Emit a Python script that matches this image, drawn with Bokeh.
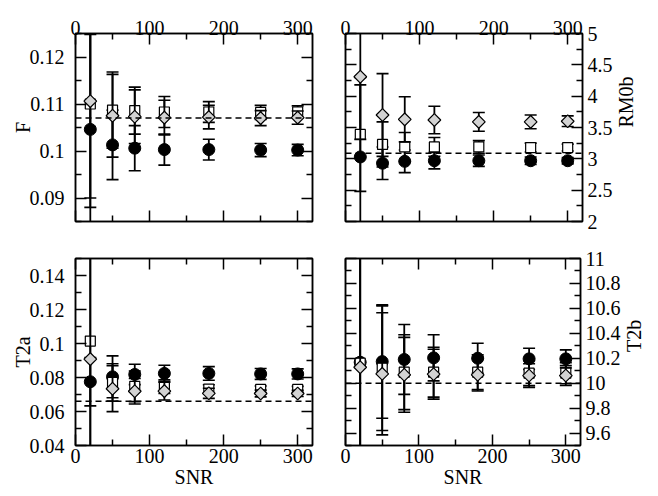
import math
from bokeh.plotting import figure
from bokeh.models import LinearAxis, FixedTicker, CustomJSTickFormatter, Span, Range1d
from bokeh.layouts import column, row
from bokeh.embed import file_html
from bokeh.resources import INLINE

# ---------------- data ----------------
snr = [20, 50, 80, 120, 180, 250, 300]

F_circle = [0.1046, 0.1013, 0.1006, 0.1003, 0.1003, 0.1002, 0.1002]
F_circle_err = [0.0202, 0.0074, 0.0048, 0.0033, 0.0022, 0.0014, 0.0012]
F_square = [0.1100, 0.1087, 0.1086, 0.1083, 0.1083, 0.1082, 0.1083]
F_square_err = [0.0220, 0.0081, 0.0050, 0.0033, 0.0022, 0.0015, 0.0013]
F_diamond = [0.1106, 0.1075, 0.1073, 0.1071, 0.1072, 0.1070, 0.1071]
F_diamond_err = [0.0206, 0.0088, 0.0057, 0.0037, 0.0025, 0.0016, 0.0014]
F_ref = 0.107

RM_circle = [3.03, 2.93, 2.96, 2.97, 2.97, 2.97, 2.97]
RM_circle_err = [1.15, 0.26, 0.18, 0.13, 0.09, 0.06, 0.05]
RM_square = [3.39, 3.23, 3.19, 3.19, 3.19, 3.18, 3.18]
RM_square_err = [0.91, 0.36, 0.23, 0.15, 0.10, 0.07, 0.055]
RM_diamond = [4.31, 3.70, 3.63, 3.62, 3.59, 3.59, 3.60]
RM_diamond_err = [1.00, 0.66, 0.36, 0.22, 0.15, 0.11, 0.085]
RM_ref = 3.09

T2a_circle = [0.0775, 0.0804, 0.0818, 0.0824, 0.0824, 0.0821, 0.0821]
T2a_circle_err = [0.0142, 0.0123, 0.0060, 0.0048, 0.0040, 0.0032, 0.0030]
T2a_square = [0.1014, 0.0771, 0.0748, 0.0746, 0.0732, 0.0730, 0.0730]
T2a_square_err = [0.0700, 0.0110, 0.0090, 0.0040, 0.0025, 0.0020, 0.0018]
T2a_diamond = [0.0908, 0.0734, 0.0719, 0.0720, 0.0707, 0.0706, 0.0706]
T2a_diamond_err = [0.0600, 0.0135, 0.0075, 0.0052, 0.0030, 0.0020, 0.0018]
T2a_ref = 0.066

T2b_circle = [10.168, 10.173, 10.190, 10.203, 10.200, 10.195, 10.195]
T2b_circle_err = [1.50, 0.455, 0.28, 0.185, 0.12, 0.085, 0.072]
T2b_square = [10.160, 10.120, 10.088, 10.088, 10.088, 10.080, 10.080]
T2b_square_err = [1.60, 0.50, 0.30, 0.20, 0.14, 0.10, 0.085]
T2b_diamond = [10.128, 10.075, 10.067, 10.072, 10.067, 10.061, 10.061]
T2b_diamond_err = [1.40, 0.49, 0.30, 0.20, 0.13, 0.095, 0.08]
T2b_ref = 10.0

x_ticks = [0, 100, 200, 300]
x_minor = [50, 150, 250]

F_ticks = [0.09, 0.10, 0.11, 0.12]
F_minor = [0.085, 0.095, 0.105, 0.115, 0.125]
RM_ticks = [2, 2.5, 3, 3.5, 4, 4.5, 5]
RM_minor = [2.25, 2.75, 3.25, 3.75, 4.25, 4.75]
T2a_ticks = [0.04, 0.06, 0.08, 0.10, 0.12, 0.14]
T2a_minor = [0.05, 0.07, 0.09, 0.11, 0.13, 0.15]
T2b_ticks = [9.6, 9.8, 10.0, 10.2, 10.4, 10.6, 10.8, 11.0]
T2b_minor = [9.5, 9.7, 9.9, 10.1, 10.3, 10.5, 10.7, 10.9]

FONT = "Liberation Serif"
FS = "20px"


def style_axis(ax, labeled, standoff=0):
    ax.major_tick_in = 11
    ax.major_tick_out = 0
    ax.minor_tick_in = 6
    ax.minor_tick_out = 0
    ax.major_tick_line_width = 1.5
    ax.minor_tick_line_width = 1.5
    ax.axis_line_width = 1.5
    ax.axis_line_color = "black"
    ax.major_tick_line_color = "black"
    ax.minor_tick_line_color = "black"
    if labeled:
        ax.formatter = CustomJSTickFormatter(code="return String(Number(tick.toFixed(4)));")
        ax.major_label_text_font = FONT
        ax.major_label_text_font_size = FS
        ax.major_label_text_color = "black"
        ax.major_label_standoff = standoff
    else:
        ax.formatter = CustomJSTickFormatter(code="return '';")
        ax.major_label_text_font_size = "0px"
        ax.major_label_standoff = 0


def panel(width, height, borders, ylim, yt, ym, xside, yside, ylabel, series, ref):
    p = figure(width=width, height=height, output_backend="svg", toolbar_location=None,
               x_axis_location=None, y_axis_location=None,
               x_range=Range1d(0, 320), y_range=Range1d(*ylim),
               min_border_left=borders[0], min_border_right=borders[1],
               min_border_top=borders[2], min_border_bottom=borders[3])
    p.grid.visible = False
    p.outline_line_color = "black"
    p.outline_line_width = 1.5
    p.background_fill_color = "white"
    p.border_fill_color = "white"

    for side in ["above", "below"]:
        ax = LinearAxis(ticker=FixedTicker(ticks=x_ticks, minor_ticks=x_minor))
        lab = side == xside
        style_axis(ax, lab, -1 if side == "above" else 3)
        if lab and side == "below":
            ax.axis_label = "SNR"
            ax.axis_label_text_font = FONT
            ax.axis_label_text_font_size = FS
            ax.axis_label_text_font_style = "normal"
            ax.axis_label_text_color = "black"
            ax.axis_label_standoff = 0
        p.add_layout(ax, side)
    for side in ["left", "right"]:
        ax = LinearAxis(ticker=FixedTicker(ticks=yt, minor_ticks=ym))
        lab = side == yside
        style_axis(ax, lab, 11 if side == "left" else 5)
        if lab:
            ax.axis_label = ylabel
            ax.axis_label_text_font = FONT
            ax.axis_label_text_font_size = FS
            ax.axis_label_text_font_style = "normal"
            ax.axis_label_text_color = "black"
            ax.axis_label_standoff = -7 if side == "left" else 10
            if side == "right":
                ax.axis_label_orientation = math.pi / 2
        p.add_layout(ax, side)

    p.add_layout(Span(location=ref, dimension="width", line_color="black",
                      line_width=1.5, line_dash="6 4"))

    styles = [
        dict(marker="circle", size=12, fill_color="black", line_color="black", line_width=1),
        dict(marker="square", size=10, fill_color="white", line_color="black", line_width=1.2),
        dict(marker="square", size=9, angle=math.pi / 4, fill_color="#d3d3d3",
             line_color="black", line_width=1.2),
    ]
    for (vals, errs), st in zip(series, styles):
        lo = [v - e for v, e in zip(vals, errs)]
        hi = [v + e for v, e in zip(vals, errs)]
        p.segment(x0=snr, y0=lo, x1=snr, y1=hi, line_color="black", line_width=1.8)
        p.scatter(x=snr, y=lo, marker="dash", size=12, line_color="black", line_width=1.6)
        p.scatter(x=snr, y=hi, marker="dash", size=12, line_color="black", line_width=1.6)
        p.scatter(x=snr, y=vals, **st)
    return p


tl = panel(328, 239, (75, 16, 33, 18), (0.085, 0.125), F_ticks, F_minor, "above", "left", "F",
           [(F_circle, F_circle_err), (F_square, F_square_err), (F_diamond, F_diamond_err)], F_ref)
tr = panel(330, 239, (17, 76, 33, 18), (2, 5), RM_ticks, RM_minor, "above", "right", "RM0b",
           [(RM_circle, RM_circle_err), (RM_square, RM_square_err), (RM_diamond, RM_diamond_err)], RM_ref)
bl = panel(328, 257, (75, 16, 19, 51), (0.04, 0.15), T2a_ticks, T2a_minor, "below", "left", "T2a",
           [(T2a_circle, T2a_circle_err), (T2a_square, T2a_square_err), (T2a_diamond, T2a_diamond_err)], T2a_ref)
br = panel(330, 257, (17, 76, 19, 51), (9.5, 11), T2b_ticks, T2b_minor, "below", "right", "T2b",
           [(T2b_circle, T2b_circle_err), (T2b_square, T2b_square_err), (T2b_diamond, T2b_diamond_err)], T2b_ref)

layout = column(row(tl, tr), row(bl, br))
open("out.html", "w").write(file_html(layout, INLINE))
